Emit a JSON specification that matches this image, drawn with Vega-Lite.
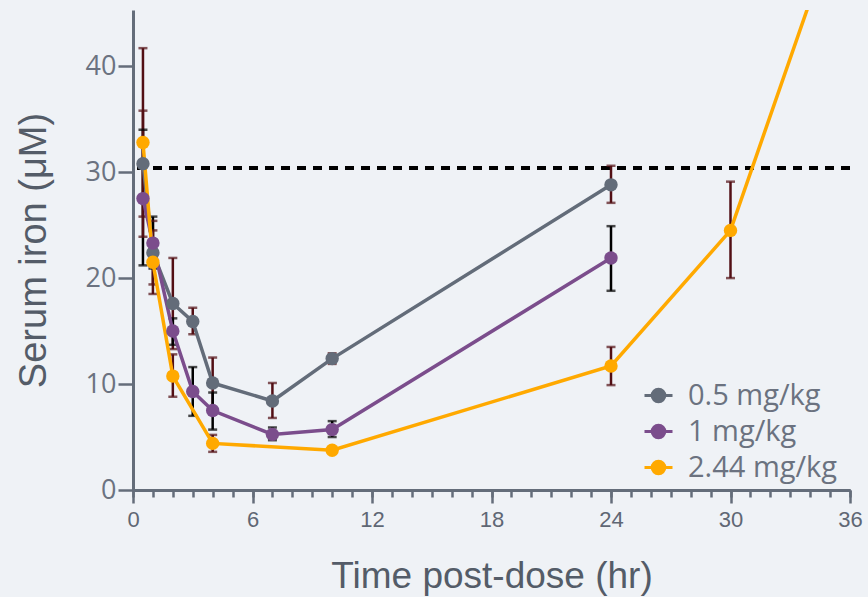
{
  "$schema": "https://vega.github.io/schema/vega-lite/v6.json",
  "width": 717,
  "height": 480,
  "autosize": {"type": "none"},
  "padding": {"left": 133, "top": 10, "right": 18, "bottom": 107},
  "background": "#eff2f6",
  "config": {"view": {"stroke": null}, "font": "Open Sans"},
  "data": {
    "values": [
      {"dose": "0.5 mg/kg", "t": 0.5, "v": 30.8, "lo": 25.8, "hi": 35.8},
      {"dose": "0.5 mg/kg", "t": 1, "v": 22.4, "lo": 19.4, "hi": 25.4},
      {"dose": "0.5 mg/kg", "t": 2, "v": 17.6, "lo": 13.3, "hi": 21.9},
      {"dose": "0.5 mg/kg", "t": 3, "v": 15.9, "lo": 14.7, "hi": 17.2},
      {"dose": "0.5 mg/kg", "t": 4, "v": 10.1, "lo": 7.7, "hi": 12.5},
      {"dose": "0.5 mg/kg", "t": 7, "v": 8.4, "lo": 6.8, "hi": 10.1},
      {"dose": "0.5 mg/kg", "t": 10, "v": 12.4, "lo": 11.9, "hi": 12.9},
      {"dose": "0.5 mg/kg", "t": 24, "v": 28.8, "lo": 27.1, "hi": 30.6},
      {"dose": "1 mg/kg", "t": 0.5, "v": 27.5, "lo": 21.2, "hi": 34.0},
      {"dose": "1 mg/kg", "t": 1, "v": 23.3, "lo": 20.9, "hi": 25.8},
      {"dose": "1 mg/kg", "t": 2, "v": 15.0, "lo": 13.7, "hi": 16.2},
      {"dose": "1 mg/kg", "t": 3, "v": 9.3, "lo": 7.0, "hi": 11.6},
      {"dose": "1 mg/kg", "t": 4, "v": 7.5, "lo": 5.7, "hi": 9.2},
      {"dose": "1 mg/kg", "t": 7, "v": 5.25, "lo": 4.7, "hi": 5.9},
      {"dose": "1 mg/kg", "t": 10, "v": 5.7, "lo": 5.0, "hi": 6.5},
      {"dose": "1 mg/kg", "t": 24, "v": 21.9, "lo": 18.8, "hi": 24.9},
      {"dose": "2.44 mg/kg", "t": 0.5, "v": 32.8, "lo": 23.9, "hi": 41.7},
      {"dose": "2.44 mg/kg", "t": 1, "v": 21.5, "lo": 18.5, "hi": 24.5},
      {"dose": "2.44 mg/kg", "t": 2, "v": 10.75, "lo": 8.8, "hi": 12.8},
      {"dose": "2.44 mg/kg", "t": 4, "v": 4.4, "lo": 3.6, "hi": 5.2},
      {"dose": "2.44 mg/kg", "t": 10, "v": 3.75, "lo": null, "hi": null},
      {"dose": "2.44 mg/kg", "t": 24, "v": 11.7, "lo": 9.9, "hi": 13.5},
      {"dose": "2.44 mg/kg", "t": 30, "v": 24.5, "lo": 20.0, "hi": 29.1},
      {"dose": "2.44 mg/kg", "t": 48, "v": 122, "lo": null, "hi": null}
    ]
  },
  "resolve": {"axis": {"x": "independent", "y": "independent"}},
  "layer": [
    {
      "mark": {"type": "rule", "color": "#000000", "strokeWidth": 3, "strokeDash": [9, 7]},
      "encoding": {
        "y": {"datum": 30.4, "type": "quantitative", "scale": {"domain": [0, 45.3], "nice": false}, "axis": null}
      }
    },
    {
      "transform": [{"filter": "isValid(datum.lo)"}],
      "encoding": {
        "x": {
          "field": "t", "type": "quantitative", "scale": {"domain": [0, 36], "nice": false},
          "axis": {
            "orient": "bottom", "title": null, "labels": false, "grid": false,
            "values": [0,1,2,3,4,5,6,7,8,9,10,11,12,13,14,15,16,17,18,19,20,21,22,23,24,25,26,27,28,29,30,31,32,33,34,35,36],
            "tickSize": 7, "tickColor": "#646d7a", "tickWidth": 2.5,
            "domainColor": "#646d7a", "domainWidth": 3
          }
        }
      },
      "layer": [
        {
          "mark": {"type": "rule", "strokeWidth": 2.5},
          "encoding": {
            "y": {
              "field": "lo", "type": "quantitative", "scale": {"domain": [0, 45.3], "nice": false},
              "axis": {
                "orient": "left", "title": null, "labels": false, "grid": false,
                "values": [0,2,4,6,8,10,12,14,16,18,20,22,24,26,28,30,32,34,36,38,40,42,44],
                "tickSize": 8, "tickColor": "#646d7a", "tickWidth": 2.5,
                "domainColor": "#646d7a", "domainWidth": 3
              }
            },
            "y2": {"field": "hi"},
            "stroke": {"field": "dose", "type": "nominal", "scale": {"range": ["#520f14", "#000000", "#520f14"]}, "legend": null}
          }
        },
        {
          "mark": {"type": "tick", "orient": "horizontal", "size": 9, "thickness": 2.5},
          "encoding": {
            "y": {"field": "lo", "type": "quantitative", "scale": {"domain": [0, 45.3], "nice": false}, "axis": null},
            "fill": {"field": "dose", "type": "nominal", "scale": {"range": ["#520f14", "#000000", "#520f14"]}, "legend": null}
          }
        },
        {
          "mark": {"type": "tick", "orient": "horizontal", "size": 9, "thickness": 2.5},
          "encoding": {
            "y": {"field": "hi", "type": "quantitative", "scale": {"domain": [0, 45.3], "nice": false}, "axis": null},
            "fill": {"field": "dose", "type": "nominal", "scale": {"range": ["#520f14", "#000000", "#520f14"]}, "legend": null}
          }
        }
      ]
    },
    {
      "encoding": {
        "x": {
          "field": "t", "type": "quantitative",
          "scale": {"domain": [0, 36], "nice": false},
          "axis": {
            "orient": "bottom",
            "title": "Time post-dose (hr)",
            "values": [0, 6, 12, 18, 24, 30, 36],
            "tickSize": 13,
            "grid": false,
            "domainColor": "#646d7a", "domainWidth": 3,
            "tickColor": "#646d7a", "tickWidth": 2.5,
            "labelFont": "Liberation Sans Narrow, Liberation Sans, sans-serif",
            "labelFontSize": 22, "labelColor": "#5f6774", "labelPadding": 6,
            "labelOverlap": false, "labelFlush": false,
            "titleFont": "Liberation Sans", "titleFontSize": 37, "titleFontWeight": "normal",
            "titleColor": "#545c68", "titlePadding": 28
          }
        },
        "y": {
          "field": "v", "type": "quantitative",
          "scale": {"domain": [0, 45.3], "nice": false},
          "axis": {
            "orient": "left",
            "title": "Serum iron (μM)",
            "values": [0, 10, 20, 30, 40],
            "tickSize": 15,
            "grid": false,
            "domainColor": "#646d7a", "domainWidth": 3,
            "tickColor": "#646d7a", "tickWidth": 2.5,
            "labelFont": "Open Sans", "labelFontSize": 27, "labelColor": "#6b7280", "labelPadding": 2,
            "labelOverlap": false, "labelFlush": false,
            "titleFont": "Liberation Sans", "titleFontSize": 38, "titleFontWeight": "normal",
            "titleColor": "#545c68", "titlePadding": 32
          }
        },
        "color": {
          "field": "dose", "type": "nominal",
          "scale": {"domain": ["0.5 mg/kg", "1 mg/kg", "2.44 mg/kg"], "range": ["#636c79", "#7b4d8c", "#ffa900"]},
          "legend": {
            "title": null, "orient": "none", "legendX": 510, "legendY": 370,
            "symbolType": "M -1 0 L 1 0 M 0.45 0 A 0.45 0.45 0 1 1 -0.45 0 A 0.45 0.45 0 1 1 0.45 0 Z",
            "symbolSize": 784, "symbolStrokeWidth": 3,
            "labelFont": "Open Sans", "labelFontSize": 29, "labelColor": "#6b7280",
            "labelOffset": 14, "rowPadding": 5,
            "encode": {"symbols": {"update": {"fill": {"scale": "color", "field": "value"}, "stroke": {"scale": "color", "field": "value"}}}}
          }
        }
      },
      "layer": [
        {"mark": {"type": "line", "strokeWidth": 3.5, "clip": true}},
        {"mark": {"type": "point", "filled": true, "size": 180, "opacity": 1, "clip": true}}
      ]
    }
  ]
}
